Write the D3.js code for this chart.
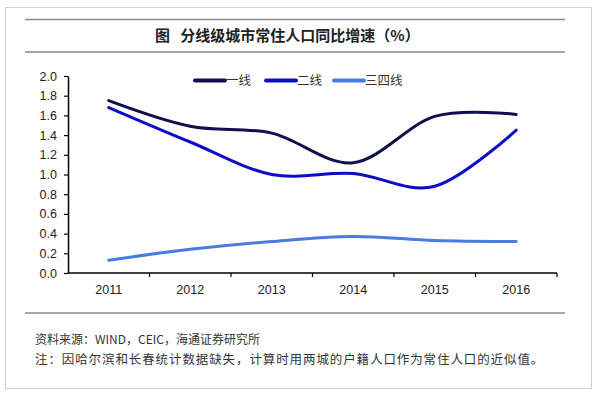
<!DOCTYPE html>
<html>
<head>
<meta charset="utf-8">
<script src="https://d3js.org/d3.v7.min.js"></script>
<style>
  body { margin: 0; background: #fff; }
  text { font-family: "Liberation Sans", Arial, sans-serif; }
  .cn { font-family: "Noto Sans CJK SC", sans-serif; }
</style>
</head>
<body>
<div id="chart"></div>
<script>
// data
var years = ["2011", "2012", "2013", "2014", "2015", "2016"];
var tier1 = [1.75, 1.49, 1.42, 1.12, 1.59, 1.61];
var tier2 = [1.68, 1.33, 1.00, 1.01, 0.88, 1.45];
var tier34 = [0.13, 0.24, 0.32, 0.37, 0.33, 0.32];
var seriesNames = ["一线", "二线", "三四线"];
var yTicks = [0, 0.2, 0.4, 0.6, 0.8, 1.0, 1.2, 1.4, 1.6, 1.8, 2.0];

var colors = ["#10104f", "#0d0dc8", "#4a7be0"];
var allSeries = [tier1, tier2, tier34];

var W = 597, H = 396;
var svg = d3.select("#chart").append("svg").attr("width", W).attr("height", H);

// outer frame
svg.append("rect").attr("x", 5.5).attr("y", 7.5).attr("width", 586).attr("height", 381)
  .attr("fill", "none").attr("stroke", "#cfcfcf").attr("stroke-width", 1);

// title rules
[19.5, 52, 313].forEach(function (y) {
  svg.append("line").attr("x1", 25).attr("x2", 565).attr("y1", y).attr("y2", y)
    .attr("stroke", "#8a8a8a").attr("stroke-width", 1.5);
});

svg.append("text").attr("class", "cn").attr("x", 155).attr("y", 41)
  .style("font-size", "15px").style("font-weight", "bold").style("white-space", "pre")
  .attr("fill", "#222")
  .text("图   分线级城市常住人口同比增速（%）");

var x = d3.scaleBand().domain(years).range([68, 557]);
var y = d3.scaleLinear().domain([0, 2]).range([273, 76]);

// y axis
var yAxis = d3.axisLeft(y).tickValues(yTicks).tickFormat(d3.format(".1f")).tickSize(4).tickSizeOuter(0).tickPadding(7);
var gy = svg.append("g").attr("transform", "translate(68,0)").call(yAxis);
gy.select(".domain").attr("stroke", "#000").attr("stroke-width", 1.5);
gy.selectAll(".tick line").attr("stroke", "#000").attr("stroke-width", 1.2);
gy.selectAll("text").style("font-size", "12.5px").attr("fill", "#222");

// x axis
var xAxis = d3.axisBottom(x).tickSize(0).tickPadding(12);
var gx = svg.append("g").attr("transform", "translate(0,273)").call(xAxis);
gx.select(".domain").attr("d", "M68,0H557").attr("stroke", "#000").attr("stroke-width", 1.5);
gx.selectAll("text").style("font-size", "12.5px").attr("fill", "#222");
var bounds = years.map(function (d) { return x(d); }).concat([x.range()[1]]);
gx.selectAll(".bnd").data(bounds.slice(1)).enter().append("line")
  .attr("x1", function (d) { return d; }).attr("x2", function (d) { return d; })
  .attr("y1", 0).attr("y2", 4).attr("stroke", "#000").attr("stroke-width", 1.2);

// lines
var line = d3.line()
  .x(function (d, i) { return x(years[i]) + x.bandwidth() / 2; })
  .y(function (d) { return y(d); })
  .curve(d3.curveCatmullRom.alpha(0));

allSeries.forEach(function (s, i) {
  svg.append("path").datum(s).attr("d", line).attr("fill", "none")
    .attr("stroke", colors[i]).attr("stroke-width", 3).attr("stroke-linecap", "round");
});

// legend
var lx = [195, 266, 334];
seriesNames.forEach(function (n, i) {
  svg.append("line").attr("x1", lx[i]).attr("x2", lx[i] + 30).attr("y1", 80.5).attr("y2", 80.5)
    .attr("stroke", colors[i]).attr("stroke-width", 4).attr("stroke-linecap", "round");
  svg.append("text").attr("class", "cn").attr("x", lx[i] + 31).attr("y", 85)
    .style("font-size", "12.5px").attr("fill", "#333").text(n);
});

// footnotes
svg.append("text").attr("class", "cn").attr("x", 35).attr("y", 344)
  .style("font-size", "12px").attr("fill", "#333")
  .text("资料来源：WIND，CEIC，海通证券研究所");
svg.append("text").attr("class", "cn").attr("x", 35).attr("y", 364)
  .style("font-size", "12.5px").style("letter-spacing", "0.9px").attr("fill", "#333")
  .text("注：因哈尔滨和长春统计数据缺失，计算时用两城的户籍人口作为常住人口的近似值。");
</script>
</body>
</html>
